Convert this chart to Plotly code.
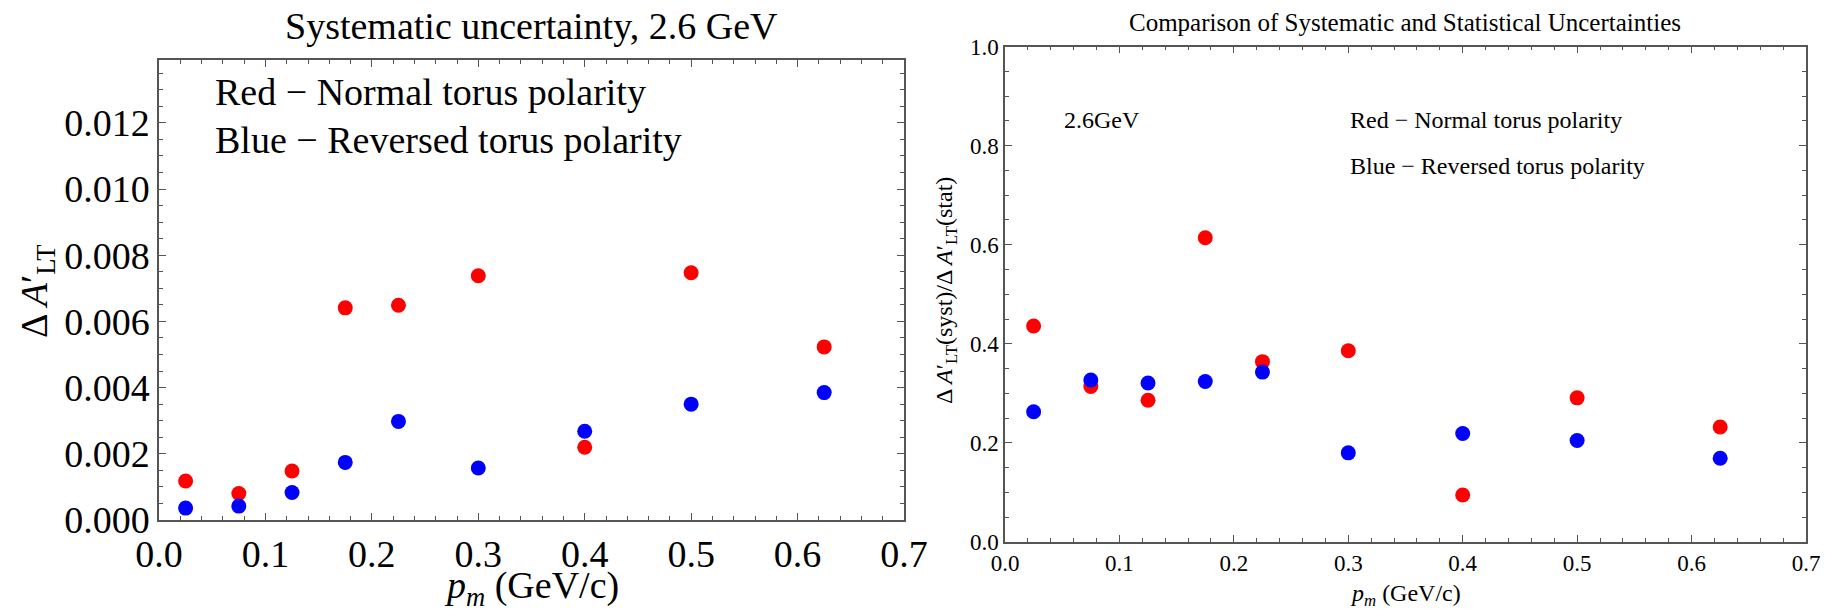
import plotly.graph_objects as go

# Missing-momentum bin centres (GeV/c)
pm = [0.025, 0.075, 0.125, 0.175, 0.225, 0.3, 0.4, 0.5, 0.625]

# Systematic uncertainty on A'_LT, 2.6 GeV
syst_normal = [0.00118, 0.00080, 0.00148, 0.00641, 0.00649, 0.00738, 0.00220, 0.00747, 0.00523]
syst_reversed = [0.00036, 0.00042, 0.00083, 0.00174, 0.00298, 0.00157, 0.00268, 0.00350, 0.00385]

# Ratio of systematic to statistical uncertainty
ratio_normal = [0.436, 0.314, 0.286, 0.614, 0.364, 0.386, 0.095, 0.291, 0.232]
ratio_reversed = [0.263, 0.327, 0.321, 0.324, 0.343, 0.180, 0.219, 0.205, 0.169]

left_yticks = [0.0, 0.002, 0.004, 0.006, 0.008, 0.010, 0.012]
left_yticklabels = ["0.000", "0.002", "0.004", "0.006", "0.008", "0.010", "0.012"]
right_yticks = [0.0, 0.2, 0.4, 0.6, 0.8, 1.0]
right_yticklabels = ["0.0", "0.2", "0.4", "0.6", "0.8", "1.0"]
xticks = [0.0, 0.1, 0.2, 0.3, 0.4, 0.5, 0.6, 0.7]
xticklabels = ["0.0", "0.1", "0.2", "0.3", "0.4", "0.5", "0.6", "0.7"]

W, H = 1825, 609
FONT = "Liberation Serif, Times New Roman, serif"
RED = "#ff0000"
BLUE = "#0000ff"
FRAME = "#555555"


def px(x):
    return x / W


def py(y):
    return 1 - y / H


fig = go.Figure()

marker_size = 15
fig.add_trace(go.Scatter(x=pm, y=syst_normal, mode="markers",
                         marker=dict(color=RED, size=marker_size),
                         xaxis="x", yaxis="y", showlegend=False))
fig.add_trace(go.Scatter(x=pm, y=syst_reversed, mode="markers",
                         marker=dict(color=BLUE, size=marker_size),
                         xaxis="x", yaxis="y", showlegend=False))
fig.add_trace(go.Scatter(x=pm, y=ratio_normal, mode="markers",
                         marker=dict(color=RED, size=marker_size),
                         xaxis="x2", yaxis="y2", showlegend=False))
fig.add_trace(go.Scatter(x=pm, y=ratio_reversed, mode="markers",
                         marker=dict(color=BLUE, size=marker_size),
                         xaxis="x2", yaxis="y2", showlegend=False))


def frame_axis(**kw):
    base = dict(showline=True, linecolor=FRAME, linewidth=1.5, mirror="allticks",
                ticks="inside", ticklen=7, tickwidth=1, tickcolor=FRAME,
                showgrid=False, zeroline=False, tickmode="array", automargin=False)
    base.update(kw)
    return base


fig.update_layout(
    width=W, height=H,
    margin=dict(l=0, r=0, t=0, b=0, autoexpand=False),
    paper_bgcolor="white", plot_bgcolor="white",
    font=dict(family=FONT, color="black"),
    xaxis=frame_axis(domain=[px(159), px(904)], range=[0, 0.7], anchor="y",
                     tickvals=xticks, ticktext=xticklabels,
                     tickfont=dict(size=38, family=FONT),
                     minor=dict(ticks="inside", dtick=0.02, ticklen=4, tickcolor=FRAME)),
    yaxis=frame_axis(domain=[py(520), py(60)], range=[0, 0.0139], anchor="x",
                     tickvals=left_yticks, ticktext=left_yticklabels,
                     tickfont=dict(size=38, family=FONT),
                     minor=dict(ticks="inside", dtick=0.0005, ticklen=4, tickcolor=FRAME)),
    xaxis2=frame_axis(domain=[px(1005), px(1806)], range=[0, 0.7], anchor="y2",
                      tickvals=xticks, ticktext=xticklabels,
                      tickfont=dict(size=23, family=FONT),
                      minor=dict(ticks="inside", dtick=0.02, ticklen=4, tickcolor=FRAME)),
    yaxis2=frame_axis(domain=[py(542), py(46.6)], range=[0, 1.0], anchor="x2",
                      tickvals=right_yticks, ticktext=right_yticklabels,
                      tickfont=dict(size=23, family=FONT),
                      minor=dict(ticks="inside", dtick=0.05, ticklen=4, tickcolor=FRAME)),
)


def note(text, x, y, size, xanchor="left", angle=0):
    fig.add_annotation(text=text, x=px(x), y=py(y), xref="paper", yref="paper",
                       xanchor=xanchor, yanchor="middle", showarrow=False,
                       textangle=angle, font=dict(size=size, family=FONT, color="black"))


# Left panel texts
note("Systematic uncertainty, 2.6 GeV", 531, 26, 38, xanchor="center")
note("Red \u2212 Normal torus polarity", 213, 92, 38)
note("Blue \u2212 Reversed torus polarity", 213, 140, 38)
note("<i>p</i><sub><i>m</i></sub> (GeV/c)", 531, 588, 38, xanchor="center")
note("\u0394 <i>A</i>\u2032<sub>LT</sub>", 37, 292, 38, xanchor="center", angle=-90)

# Right panel texts
note("Comparison of Systematic and Statistical Uncertainties", 1405, 23, 25, xanchor="center")
note("2.6GeV", 1062, 120, 24)
note("Red \u2212 Normal torus polarity", 1348, 120, 24)
note("Blue \u2212 Reversed torus polarity", 1348, 166, 24)
note("<i>p</i><sub><i>m</i></sub> (GeV/c)", 1405, 595, 24, xanchor="center")
note("\u0394 <i>A</i>\u2032<sub>LT</sub>(syst)/\u0394 <i>A</i>\u2032<sub>LT</sub>(stat)",
     946, 291, 24, xanchor="center", angle=-90)

fig.write_html("out.html")
